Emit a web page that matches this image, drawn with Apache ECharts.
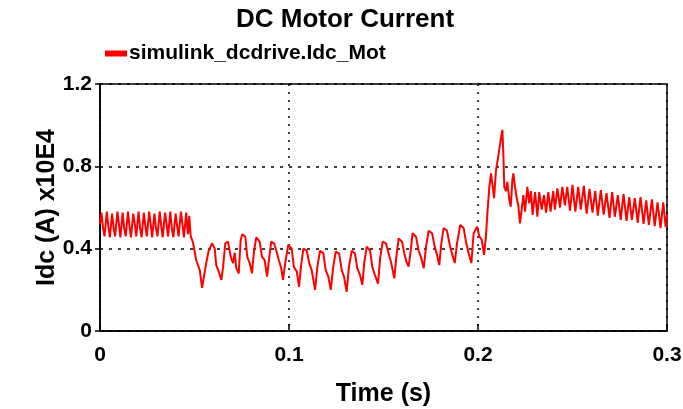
<!DOCTYPE html>
<html>
<head>
<meta charset="utf-8">
<title>DC Motor Current</title>
<script src="https://cdn.jsdelivr.net/npm/echarts@6/dist/echarts.min.js"></script>
<style>
  html, body { margin: 0; padding: 0; background: #fff; }
  #chart { width: 683px; height: 409px; }
</style>
</head>
<body>
<div id="chart"></div>
<script>
// Motor current samples, [time (s), Idc (A) x10E4]
const steadyRipple = [
  [0,0.52],[0.0008,0.575],[0.0016,0.50],[0.0024,0.46],[0.0036,0.58],[0.0044,0.51],[0.0052,0.455],
  [0.0064,0.57],[0.0072,0.50],[0.0080,0.46],[0.0092,0.58],[0.0100,0.52],[0.0108,0.455],
  [0.0120,0.575],[0.0128,0.50],[0.0136,0.46],[0.0148,0.58],[0.0156,0.51],[0.0164,0.455],
  [0.0176,0.57],[0.0184,0.52],[0.0192,0.46],[0.0204,0.58],[0.0212,0.50],[0.0220,0.455],
  [0.0232,0.575],[0.0240,0.51],[0.0248,0.46],[0.0260,0.58],[0.0268,0.52],[0.0276,0.455],
  [0.0288,0.57],[0.0296,0.50],[0.0304,0.46],[0.0316,0.58],[0.0324,0.51],[0.0332,0.455],
  [0.0344,0.575],[0.0352,0.52],[0.0360,0.46],[0.0372,0.58],[0.0380,0.50],[0.0388,0.455],
  [0.0400,0.57],[0.0408,0.51],[0.0416,0.46],[0.0428,0.58],[0.0436,0.52],[0.0444,0.455],
  [0.0456,0.575],[0.0462,0.50],[0.0466,0.47],[0.0472,0.56],[0.0480,0.46],[0.0492,0.43]
];

const loadDip = [
  [0.0509,0.345],[0.0528,0.296],[0.0540,0.21],[0.0550,0.264],[0.0562,0.33],[0.0575,0.39],
  [0.0593,0.426],[0.0607,0.40],[0.0615,0.32],[0.0628,0.29],[0.0642,0.248],[0.0651,0.31],
  [0.0663,0.426],[0.0677,0.434],[0.0692,0.36],[0.0704,0.33],[0.0713,0.38],[0.0721,0.306],
  [0.0734,0.28],[0.0744,0.44],[0.0753,0.47],[0.0769,0.458],[0.0779,0.36],[0.0792,0.33],
  [0.0804,0.28],[0.0815,0.39],[0.0827,0.455],[0.0845,0.434],[0.0857,0.36],[0.0871,0.345],
  [0.0884,0.264],[0.0894,0.345],[0.0906,0.434],[0.0921,0.426],[0.0933,0.39],[0.0946,0.345],
  [0.0959,0.305],[0.0968,0.248],[0.0980,0.33],[0.0996,0.418],[0.1014,0.40],[0.1026,0.31],
  [0.1041,0.29],[0.1053,0.215],[0.1063,0.31],[0.1076,0.40],[0.1094,0.39],[0.1107,0.33],
  [0.1120,0.296],[0.1138,0.20],[0.1150,0.31],[0.1164,0.39],[0.1182,0.377],[0.1194,0.296],
  [0.1208,0.264],[0.1221,0.20],[0.1234,0.31],[0.1247,0.385],[0.1265,0.377],[0.1279,0.296],
  [0.1291,0.264],[0.1305,0.19],[0.1317,0.31],[0.1332,0.39],[0.1349,0.377],[0.1361,0.305],
  [0.1376,0.272],[0.1388,0.224],[0.1398,0.33],[0.1411,0.41],[0.1429,0.39],[0.1441,0.31],
  [0.1455,0.272],[0.1471,0.23]
];

const recoveryRamp = [
  [0.1483,0.36],[0.1496,0.434],[0.1513,0.426],[0.1527,0.377],[0.1541,0.33],[0.1557,0.256],
  [0.1568,0.36],[0.1580,0.45],[0.1598,0.434],[0.1610,0.377],[0.1621,0.337],[0.1633,0.313],
  [0.1644,0.39],[0.1654,0.475],[0.1672,0.458],[0.1686,0.39],[0.1698,0.36],[0.1713,0.305],
  [0.1725,0.41],[0.1739,0.487],[0.1757,0.475],[0.1771,0.41],[0.1783,0.37],[0.1795,0.32],
  [0.1806,0.426],[0.1818,0.50],[0.1836,0.487],[0.1850,0.42],[0.1862,0.377],[0.1877,0.33],
  [0.1889,0.426],[0.1906,0.515],[0.1924,0.50],[0.1938,0.426],[0.1951,0.377],[0.1965,0.33],
  [0.1977,0.475],[0.1995,0.507],[0.2007,0.46],[0.2020,0.442],[0.2032,0.37]
];

const surge = [
  [0.2042,0.458],[0.2049,0.564],[0.2060,0.70],[0.2069,0.766],[0.2078,0.70],[0.2085,0.645],
  [0.2095,0.78],[0.2107,0.847],[0.2120,0.928],[0.2129,0.977],[0.2134,0.863],[0.2139,0.70],
  [0.2148,0.68],[0.2155,0.725],[0.2166,0.636],[0.2173,0.604],[0.2182,0.734],[0.2187,0.766],
  [0.2196,0.70],[0.2205,0.645],[0.2213,0.612],[0.2222,0.523],[0.2231,0.59],[0.2240,0.66],
  [0.2249,0.58],[0.2261,0.70],[0.2271,0.62],[0.2280,0.68],[0.2289,0.564],[0.2302,0.675],
  [0.2314,0.555],[0.2324,0.675],[0.2337,0.59],[0.2349,0.66],[0.2360,0.575],[0.2372,0.675],
  [0.2384,0.58],[0.2398,0.68],[0.2407,0.59],[0.2420,0.693],[0.2434,0.60],[0.2446,0.70],
  [0.2460,0.61],[0.2472,0.70]
];

const settling = [
  [0.2487,0.585],[0.2500,0.71],[0.2515,0.58],[0.2530,0.70],[0.2544,0.59],[0.2560,0.705],
  [0.2575,0.57],[0.2590,0.69],[0.2606,0.575],[0.2620,0.68],[0.2634,0.56],[0.2650,0.685],
  [0.2665,0.565],[0.2680,0.67],[0.2696,0.55],[0.2710,0.675],[0.2724,0.555],[0.2740,0.66],
  [0.2755,0.54],[0.2770,0.665],[0.2786,0.535],[0.2800,0.65],[0.2814,0.54],[0.2830,0.645],
  [0.2845,0.525],[0.2860,0.65],[0.2876,0.52],[0.2890,0.635],[0.2904,0.515],[0.2920,0.64],
  [0.2935,0.51],[0.2950,0.625],[0.2966,0.50],[0.2980,0.625],[0.2993,0.505],[0.3000,0.56]
];

const xTicks = [0, 0.1, 0.2, 0.3];
const yTicks = [0, 0.4, 0.8, 1.2];

const seriesName = 'simulink_dcdrive.Idc_Mot';
const samples = [].concat(steadyRipple, loadDip, recoveryRamp, surge, settling);

const chart = echarts.init(document.getElementById('chart'), null, { renderer: 'canvas' });
const FONT = '"Liberation Sans", Arial, sans-serif';

chart.setOption({
  animation: false,
  backgroundColor: '#ffffff',
  title: {
    text: 'DC Motor Current',
    left: 340, top: 2, textAlign: 'center',
    textStyle: { fontFamily: FONT, fontWeight: 'bold', fontSize: 26, color: '#000' }
  },
  legend: {
    left: 100, top: 38,
    icon: 'rect', itemWidth: 22, itemHeight: 6, itemGap: 4,
    textStyle: { fontFamily: FONT, fontWeight: 'bold', fontSize: 21, color: '#000', padding: [0, 0, 0, -3] },
    data: [seriesName]
  },
  grid: {
    left: 100, right: 16, top: 84, bottom: 78,
    outerBoundsMode: 'none',
    show: true, borderColor: '#000', borderWidth: 1.5, backgroundColor: 'transparent'
  },
  xAxis: {
    type: 'value',
    min: xTicks[0], max: xTicks[xTicks.length - 1], interval: xTicks[1] - xTicks[0],
    name: 'Time (s)', nameLocation: 'middle', nameGap: 51, nameMoveOverlap: false,
    nameTextStyle: { fontFamily: FONT, fontWeight: 'bold', fontSize: 25, color: '#000' },
    axisLine: { show: true, lineStyle: { color: '#000', width: 1.5 } },
    axisTick: { show: true, inside: true, length: 7, lineStyle: { color: '#000', width: 1.5 } },
    axisLabel: { fontFamily: FONT, fontWeight: 'bold', fontSize: 21, color: '#000', margin: 14 },
    splitLine: { show: true, lineStyle: { color: '#000', width: 1.5, type: [2, 6] } }
  },
  yAxis: {
    type: 'value',
    min: yTicks[0], max: yTicks[yTicks.length - 1], interval: yTicks[1] - yTicks[0],
    name: 'Idc (A) x10E4', nameLocation: 'middle', nameGap: 40, nameMoveOverlap: false,
    nameTextStyle: { fontFamily: FONT, fontWeight: 'bold', fontSize: 25, color: '#000' },
    axisLine: { show: true, lineStyle: { color: '#000', width: 1.5 } },
    axisTick: { show: true, inside: false, length: 5, lineStyle: { color: '#000', width: 1.5 } },
    axisLabel: { fontFamily: FONT, fontWeight: 'bold', fontSize: 21, color: '#000', margin: 8 },
    splitLine: { show: true, lineStyle: { color: '#000', width: 1.5, type: [3, 6] } }
  },
  series: [{
    name: seriesName,
    type: 'line',
    data: samples,
    showSymbol: false,
    symbol: 'none',
    lineStyle: { color: '#ff0000', width: 2 },
    itemStyle: { color: '#ff0000' },
    z: 3
  }]
});
</script>
</body>
</html>
